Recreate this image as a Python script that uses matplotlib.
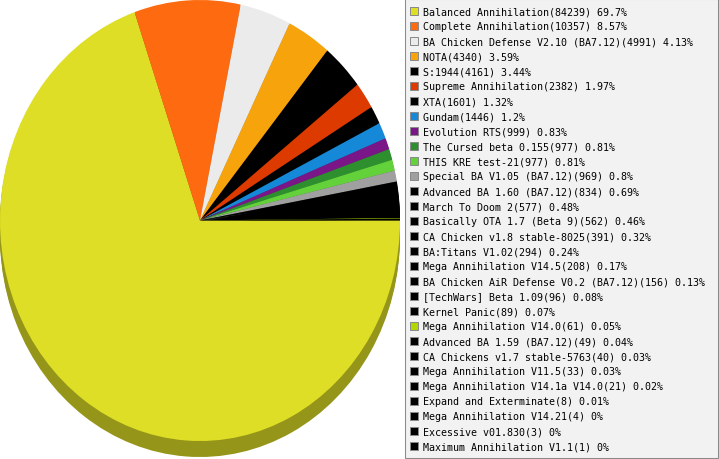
import matplotlib
matplotlib.use('Agg')
import matplotlib.pyplot as plt
from matplotlib.patches import Patch, Rectangle
from matplotlib.legend_handler import HandlerPatch
import matplotlib.colors as mcolors

names = [
    "Balanced Annihilation", "Complete Annihilation",
    "BA Chicken Defense V2.10 (BA7.12)", "NOTA", "S:1944",
    "Supreme Annihilation", "XTA", "Gundam", "Evolution RTS",
    "The Cursed beta 0.155", "THIS KRE test-21", "Special BA V1.05 (BA7.12)",
    "Advanced BA 1.60 (BA7.12)", "March To Doom 2", "Basically OTA 1.7 (Beta 9)",
    "CA Chicken v1.8 stable-8025", "BA:Titans V1.02", "Mega Annihilation V14.5",
    "BA Chicken AiR Defense V0.2 (BA7.12)", "[TechWars] Beta 1.09", "Kernel Panic",
    "Mega Annihilation V14.0", "Advanced BA 1.59 (BA7.12)", "CA Chickens v1.7 stable-5763",
    "Mega Annihilation V11.5", "Mega Annihilation V14.1a V14.0", "Expand and Exterminate",
    "Mega Annihilation V14.21", "Excessive v01.830", "Maximum Annihilation V1.1",
]
counts = [84239, 10357, 4991, 4340, 4161, 2382, 1601, 1446, 999, 977, 977, 969,
          834, 577, 562, 391, 294, 208, 156, 96, 89, 61, 49, 40, 33, 21, 8, 4, 3, 1]
pcts = ["69.7", "8.57", "4.13", "3.59", "3.44", "1.97", "1.32", "1.2", "0.83",
        "0.81", "0.81", "0.8", "0.69", "0.48", "0.46", "0.32", "0.24", "0.17",
        "0.13", "0.08", "0.07", "0.05", "0.04", "0.03", "0.03", "0.02", "0.01",
        "0", "0", "0"]
colors = ["#dede26", "#fd6a0f", "#ebebeb", "#f7a30b", "#000000", "#dd3a00",
          "#000000", "#1589d8", "#7b1688", "#2e8f2e", "#63d139", "#a0a0a0",
          "#000000", "#000000", "#000000", "#000000", "#000000", "#000000",
          "#000000", "#000000", "#000000", "#b0d800", "#000000", "#000000",
          "#000000", "#000000", "#000000", "#000000", "#000000", "#000000"]

W, H = 719, 460
fig = plt.figure(figsize=(W / 100, H / 100), dpi=100)

rx, ry, depth, top = 200, 220.5, 16, 1
ax = fig.add_axes([0, (H - (top + 2 * ry + depth)) / H, 2 * rx / W, (2 * ry + depth) / H])
off = depth / ry


def darken(c, f=0.67):
    r, g, b = mcolors.to_rgb(c)
    return (r * f, g * f, b * f)


dark = [darken(c) for c in colors]
steps = 8
for k in range(steps, 0, -1):
    ax.pie(counts, colors=dark, startangle=0, counterclock=False,
           center=(0, -off * k / steps), radius=1, wedgeprops=dict(linewidth=0))
ax.pie(counts, colors=colors, startangle=0, counterclock=False,
       center=(0, 0), radius=1, wedgeprops=dict(linewidth=0))
ax.set_aspect('auto')
ax.set_xlim(-1, 1)
ax.set_ylim(-1 - off, 1)
ax.set_axis_off()


def square_patch(legend, orig_handle, xdescent, ydescent, width, height, fontsize):
    s = width
    return Rectangle((-xdescent, -ydescent + (height - s) / 2), s, s)


handles = [Patch(facecolor=c, edgecolor='#8a8a8a', linewidth=0.72) for c in colors]
labels = [f"{n}({c}) {p}%" for n, c, p in zip(names, counts, pcts)]
fs = 7.2
leg = fig.legend(handles, labels, loc='upper left',
                 bbox_to_anchor=(405 / W, 1.0, 313 / W, 0), mode='expand',
                 borderaxespad=0, prop=dict(family='DejaVu Sans Mono', size=fs),
                 handlelength=0.8, handleheight=1.777, handletextpad=0.5,
                 labelspacing=0.1, borderpad=0.5, fancybox=False,
                 handler_map={Patch: HandlerPatch(patch_func=square_patch)},
                 frameon=True, facecolor='#f2f2f2', edgecolor='#8a8a8a')
leg.get_frame().set_linewidth(0.75)
leg.get_frame().set_alpha(1)

fig.savefig('out.png', dpi=100)
